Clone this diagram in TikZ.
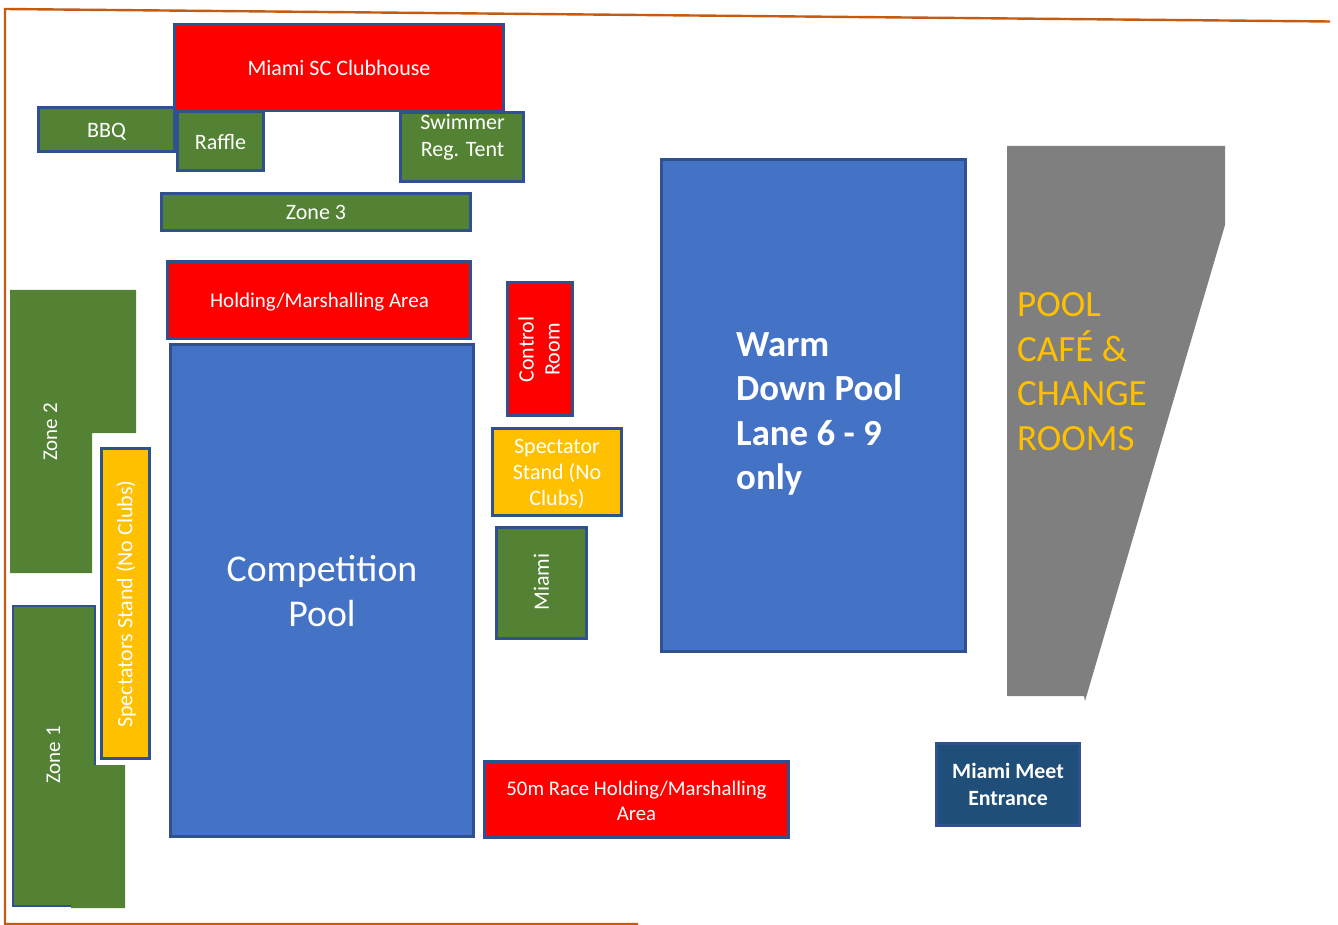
\documentclass[tikz,border=0pt]{standalone}
\usepackage{fontspec}
\setmainfont{Carlito}
\definecolor{zgreen}{HTML}{548235}
\definecolor{zblue}{HTML}{4472C4}
\definecolor{zedge}{HTML}{2F528F}
\definecolor{zgold}{HTML}{FFC000}
\definecolor{zorange}{HTML}{C55A11}
\definecolor{zgrey}{HTML}{7F7F7F}
\definecolor{znavy}{HTML}{1F4E79}
\newcommand{\fs}[2]{\fontsize{#1}{#2}\selectfont}
\tikzset{
  x=1pt,y=-1pt,
  zone/.style={draw=zedge,line width=2.1pt,inner sep=0pt,anchor=center},
  redbox/.style={zone,fill=red},
  greenbox/.style={zone,fill=zgreen},
  bluebox/.style={zone,fill=zblue},
  goldbox/.style={zone,fill=zgold},
  size/.style 2 args={minimum width={#1pt-1pt},minimum height={#2pt-1pt}},
  frameline/.style={draw=zorange,line width=2.4pt},
  label/.style={inner sep=0pt,text=white,align=center}
}
\begin{document}
\begin{tikzpicture}
\useasboundingbox (0,0) rectangle (1338,925);
% site boundary
\coordinate (f1) at (1330,21.5);
\coordinate (f2) at (5,9);
\coordinate (f3) at (5,924);
\coordinate (f4) at (638,924);
\draw[frameline] (f1) -- (f2) -- (f3) -- (f4);
% zone 2 and zone 1 shapes
\fill[zgreen] (10,290) -- (136,290) -- (136,433) -- (92,433) -- (92,573) -- (10,573) -- cycle;
\fill[zgreen] (13,606) -- (95,606) -- (95,765) -- (125,765) -- (125,908) -- (71,908) -- (71,906) -- (13,906) -- cycle;
\draw[draw=zedge,line width=2pt] (71,906) -- (13,906) -- (13,606) -- (95,606) -- (95,765);
\node[label,rotate=90,font=\fs{21}{25}] (zone2) at (50.5,432) {Zone 2};
\node[label,rotate=90,font=\fs{21}{25}] (zone1) at (53.5,755) {Zone 1};
% pools and boxes
\node[redbox,size={330}{87}] (club) at (339,67.5) {};
\node[label,font=\fs{22}{26}] (clubt) at (339,67.5) {Miami SC Clubhouse};
\node[greenbox,size={137}{45}] (bbq) at (106.5,129.5) {};
\node[label,font=\fs{22}{26}] (bbqt) at (106.5,131.5) {BBQ};
\node[greenbox,size={87}{60}] (raffle) at (220.5,141) {};
\node[label,font=\fs{22}{26}] (rafflet) at (220.5,142) {Raffle};
\node[greenbox,size={124}{70}] (reg) at (462,147) {};
\node[label,font=\fs{22}{27}] (regt) at (462.5,137) {Swimmer\\Reg. Tent};
\node[greenbox,size={310}{38}] (z3) at (316,212) {};
\node[label,font=\fs{22}{26}] (z3t) at (316,212.5) {Zone 3};
\node[redbox,size={304}{78}] (hold) at (319,300) {};
\node[label,font=\fs{21}{25}] (holdt) at (319.5,302) {Holding/Marshalling Area};
\node[redbox,size={66}{134}] (ctrl) at (540,349) {};
\node[label,rotate=90,font=\fs{22}{26}] (ctrlt) at (539,349.5) {Control\\Room};
\node[goldbox,size={130}{88}] (spec) at (557,472) {};
\node[label,font=\fs{22}{26}] (spect) at (557,473.5) {Spectator\\Stand (No\\Clubs)};
\node[greenbox,size={91}{112}] (miami) at (541.5,583) {};
\node[label,rotate=90,font=\fs{22}{26}] (miamit) at (541.5,582) {Miami};
\node[bluebox,size={304}{493}] (comp) at (322,590.5) {};
\node[label,font=\fs{37.8}{44.5}] (compt) at (322,591) {Competition\\Pool};
\node[bluebox,size={305}{493}] (warm) at (813.5,405.5) {};
\node[label,align=left,anchor=west,font=\bfseries\fs{36.8}{44.6}] (warmt) at (736,414) {Warm\\Down Pool\\Lane 6 - 9\\only};
\node[goldbox,size={49}{311}] (stand) at (125.5,603.5) {};
\node[label,rotate=90,font=\fs{22}{26}] (standt) at (126,604) {Spectators Stand (No Clubs)};
\node[redbox,size={305}{77}] (race) at (636.5,799.5) {};
\node[label,font=\fs{20.8}{25}] (racet) at (636.5,800.5) {50m Race Holding/Marshalling\\Area};
\node[zone,fill=znavy,size={144}{83}] (entr) at (1008,784.5) {};
\node[label,font=\bfseries\fs{21.8}{27.5}] (entrt) at (1008,784.5) {Miami Meet\\Entrance};
% pool cafe
\fill[zgrey] (1007,146) -- (1225,146) -- (1225,225) -- (1085,701) -- (1084,696) -- (1007,696) -- cycle;
\node[label,text=zgold,align=left,anchor=west,font=\fs{37}{44.6}] (cafe) at (1017,371.5) {POOL\\CAFÉ \&\\CHANGE\\ROOMS};
\end{tikzpicture}
\end{document}
